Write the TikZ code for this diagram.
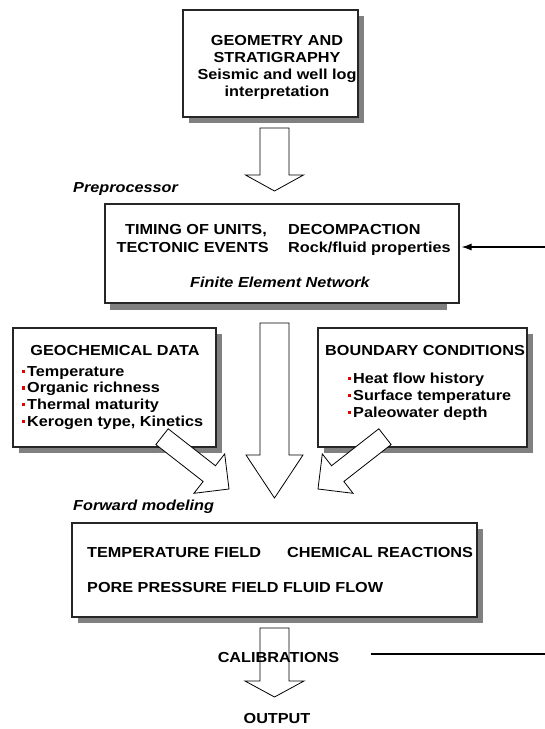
\documentclass[tikz,border=0pt]{standalone}
\usepackage{fontspec}
\setmainfont{Liberation Sans}[FakeStretch=1.12]
\usepackage{tikz}
\usetikzlibrary{calc,arrows.meta,positioning}
\colorlet{shadowgray}{black!50}
\colorlet{frameline}{black!85}
\colorlet{bulletred}{red!90!black}

\tikzset{
  panel/.style={draw=frameline, line width=1.1pt, fill=white, inner sep=0pt,
    preaction={draw=none, fill=shadowgray, transform canvas={xshift=6pt, yshift=-6pt}}},
  plainpanel/.style={draw=frameline, line width=1.1pt, fill=white, inner sep=0pt},
  txt/.style={inner sep=0pt, font=\fontsize{14.5}{17}\selectfont\bfseries},
  txtw/.style={txt, anchor=base west},
  txtc/.style={txt, anchor=base},
  txti/.style={txtw, font=\fontsize{14.5}{17}\selectfont\bfseries\itshape},
}

% hollow block arrow: tip x, tip y, angle, length, shaft half width, head half width, head length
\newcommand{\fatarrow}[7]{%
  \begin{scope}[shift={(#1,#2)}, rotate=#3]
    \draw[fill=white, line width=0.8pt, line join=miter]
      (0,0) -- (-#7,#6) -- (-#7,#5) -- (-#4,#5) -- (-#4,-#5) -- (-#7,-#5) -- (-#7,-#6) -- cycle;
  \end{scope}}

\begin{document}
\begin{tikzpicture}[x=1pt, y=-1pt]
  \useasboundingbox (0,0) rectangle (545,729);
  % Geometry box
  \node[panel, minimum width=175pt, minimum height=107pt] (geo) at (270.5,63.5) {};
  \node[txtc] (geoA) at (277,45) {GEOMETRY AND};
  \node[txtc] (geoB) at (277,62) {STRATIGRAPHY};
  \node[txtc] (geoC) at (277,79) {Seismic and well log};
  \node[txtc] (geoD) at (277,96) {interpretation};
  \fatarrow{274.5}{191}{-90}{63}{14.5}{29}{16}
  % Preprocessor box
  \node[txti] (prelbl) at (73,192) {Preprocessor};
  \fill[shadowgray] (110,303) rectangle (447,310);
  \node[plainpanel, minimum width=354pt, minimum height=99pt] (pre) at (282,253.5) {};
  \node[txt, anchor=base east] (timing) at (267,234) {TIMING OF UNITS,};
  \node[txt, anchor=base east] (tecto) at (269,252) {TECTONIC EVENTS};
  \node[txtw] (decomp) at (288,234) {DECOMPACTION};
  \node[txtw] (rock) at (288,252) {Rock/fluid properties};
  \node[txtc, font=\fontsize{14.5}{17}\selectfont\bfseries\itshape] (fem) at (280,287) {Finite Element Network};
  \coordinate (preIn) at (545,247);
  \draw[-{Latex[length=10pt,width=7pt]}, line width=1.2pt, shorten >=2pt] (preIn) -- (pre.east |- preIn);
  % Geochemical data
  \node[panel, minimum width=203pt, minimum height=119pt] (gch) at (114.5,387.5) {};
  \node[txtc] (gchT) at (115,355) {GEOCHEMICAL DATA};
  \node[txtw] (gch1) at (27,376) {Temperature};
  \node[txtw] (gch2) at (27,392.7) {Organic richness};
  \node[txtw] (gch3) at (27,409.4) {Thermal maturity};
  \node[txtw] (gch4) at (27,426) {Kerogen type, Kinetics};
  \foreach \yy in {376,392.7,409.4,426}
    \fill[bulletred] (21.5,\yy-6.5) rectangle (25,\yy-3);
  % Boundary conditions
  \node[panel, minimum width=209pt, minimum height=119pt] (bnd) at (422.5,387.5) {};
  \node[txtw] (bndT) at (325,355) {BOUNDARY CONDITIONS};
  \node[txtw] (bnd1) at (353,383) {Heat flow history};
  \node[txtw] (bnd2) at (353,400) {Surface temperature};
  \node[txtw] (bnd3) at (353,417) {Paleowater depth};
  \foreach \yy in {383,400,417}
    \fill[bulletred] (347.5,\yy-6.5) rectangle (351,\yy-3);
  % Arrows into forward modeling
  \fatarrow{274.5}{498}{-90}{175}{14.5}{28.5}{43}
  \fatarrow{229}{489}{-38}{85}{10}{25}{25}
  \fatarrow{318}{489}{-142}{85}{10}{25}{25}
  % Forward modeling box
  \node[txti] (fwdlbl) at (73,510) {Forward modeling};
  \node[panel, minimum width=405pt, minimum height=94pt] (fwd) at (274.5,570) {};
  \node[txtw] (tfield) at (87,557) {TEMPERATURE FIELD};
  \node[txtw] (chem) at (287,557) {CHEMICAL REACTIONS};
  \node[txtw] (pfield) at (87,592) {PORE PRESSURE FIELD FLUID FLOW};
  % Calibrations and output
  \fatarrow{274.5}{697}{-90}{69}{14.5}{29.5}{16}
  \node[txtc] (calib) at (278.5,662) {CALIBRATIONS};
  \coordinate (calIn) at (371,654);
  \coordinate (calOut) at (545,654);
  \draw[line width=1.1pt] (calIn) -- (calOut);
  \node[txtc] (outp) at (277,723) {OUTPUT};
\end{tikzpicture}
\end{document}
